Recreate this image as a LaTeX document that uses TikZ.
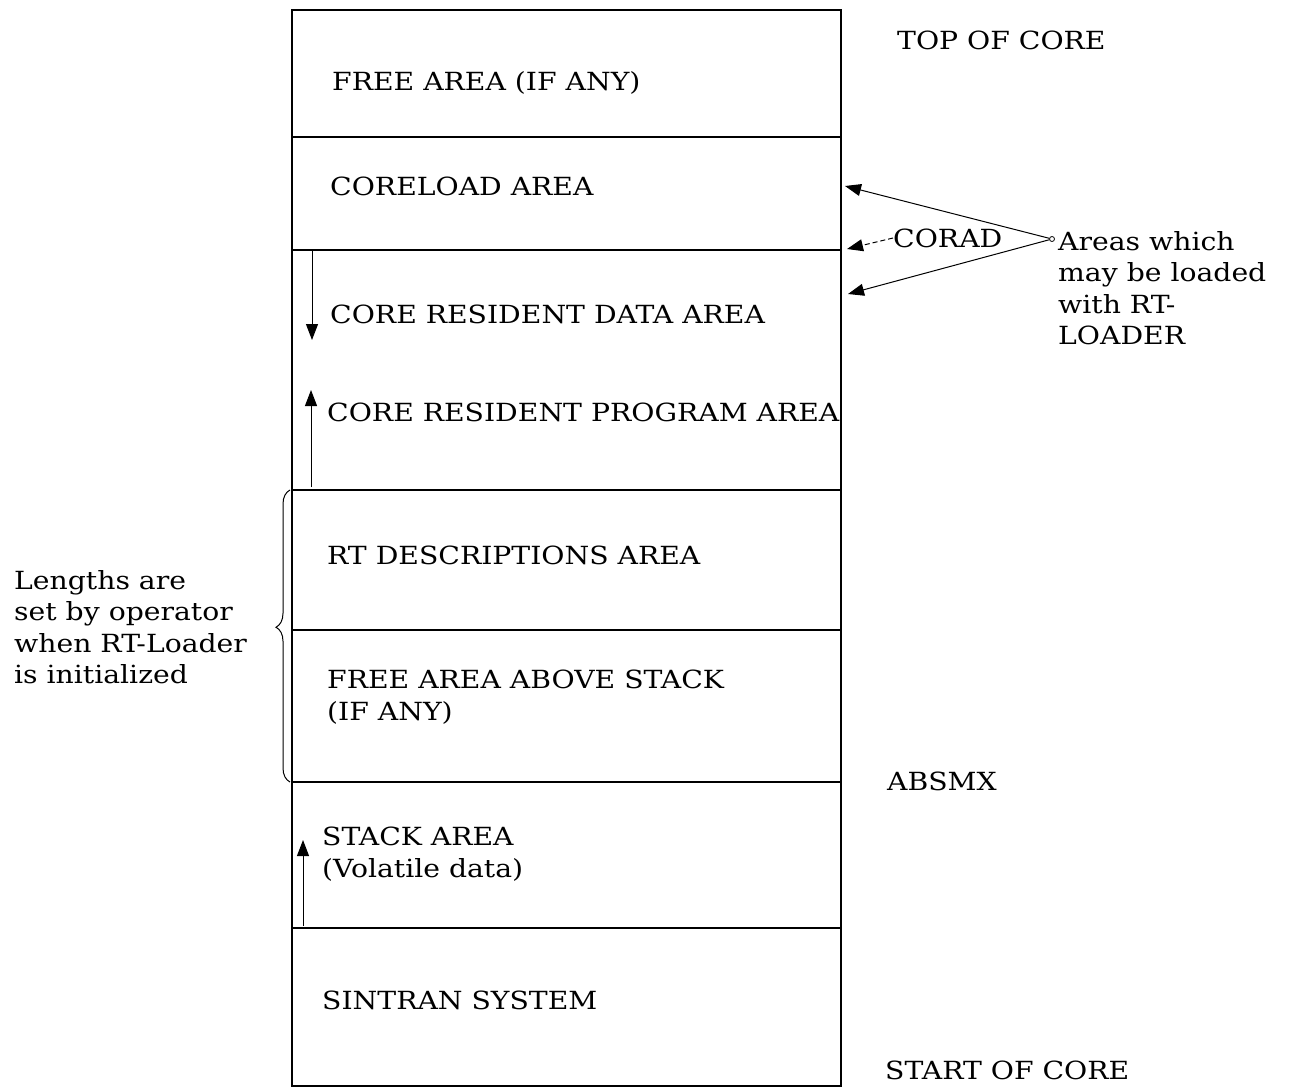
\documentclass[tikz,border=0pt]{standalone}
\usepackage{fontspec}
\setmainfont{DejaVu Serif}[FakeStretch=1.13]
\usetikzlibrary{arrows.meta,decorations.pathreplacing}
\begin{document}
\begin{tikzpicture}[x=1pt,y=-1pt,
  lbl/.style={anchor=west,inner sep=0pt,font=\fontsize{25}{31.5}\selectfont,align=left},
  rlbl/.style={anchor=west,inner sep=0pt,font=\fontsize{25}{31.5}\selectfont,align=left},
  sep/.style={line width=1.1pt},
  tri/.style={-{Triangle[length=16pt,width=12pt]},line width=1pt}]
\useasboundingbox (0,0) rectangle (1289,1088);
% outer box
\draw[sep] (292,10) rectangle (841,1086);
\foreach \yy in {137,250,490,630,782,928} \draw[sep] (292,\yy) -- (841,\yy);
% area texts
\node[lbl] (free) at (332,83) {FREE AREA (IF ANY)};
\node[lbl] (coreload) at (330,186) {CORELOAD AREA};
\node[lbl] (data) at (330,314) {CORE RESIDENT DATA AREA};
\node[lbl] (prog) at (327,412) {CORE RESIDENT PROGRAM AREA};
\node[lbl] (rtd) at (327,555) {RT DESCRIPTIONS AREA};
\node[lbl] (fas) at (327,697) {FREE AREA ABOVE STACK\\(IF ANY)};
\node[lbl] (stack) at (322,854) {STACK AREA\\(Volatile data)};
\node[lbl] (sin) at (322,1000) {SINTRAN SYSTEM};
% right labels
\node[rlbl] (top) at (897,40) {TOP OF CORE};
\node[rlbl] (absmx) at (887,781) {ABSMX};
\node[rlbl] (start) at (885,1070) {START OF CORE};
\node[rlbl] (areas) at (1058,288) {Areas which\\may be loaded\\with RT-\\LOADER};
\node[rlbl] (corad) at (893,238) {CORAD};
\node[circle,draw,line width=0.8pt,inner sep=0pt,minimum size=5pt] (circ) at (1052,239) {};
% left note
\node[lbl] (note) at (14,627) {Lengths are\\set by operator\\when RT-Loader\\is initialized};
% arrows to right edge
\coordinate (t1) at (845,186);
\coordinate (t2) at (847,249);
\coordinate (t3) at (848,294);
\draw[tri] (circ) -- (t1);
\draw[tri] (circ) -- (t3);
\draw[tri,dashed,dash pattern=on 5pt off 3pt] (corad.west) -- (t2);
% vertical arrows
\coordinate (d0) at (312,250); \coordinate (d1) at (312,340);
\coordinate (u0) at (311,487); \coordinate (u1) at (311,390);
\coordinate (s0) at (303,926); \coordinate (s1) at (303,840);
\draw[tri] (d0) -- (d1);
\draw[tri] (u0) -- (u1);
\draw[tri] (s0) -- (s1);
% brace
\coordinate (b0) at (290,782); \coordinate (b1) at (290,490);
\draw[line width=1pt,decorate,decoration={brace,amplitude=14pt,aspect=0.53}] (b0) -- (b1);
\end{tikzpicture}
\end{document}
